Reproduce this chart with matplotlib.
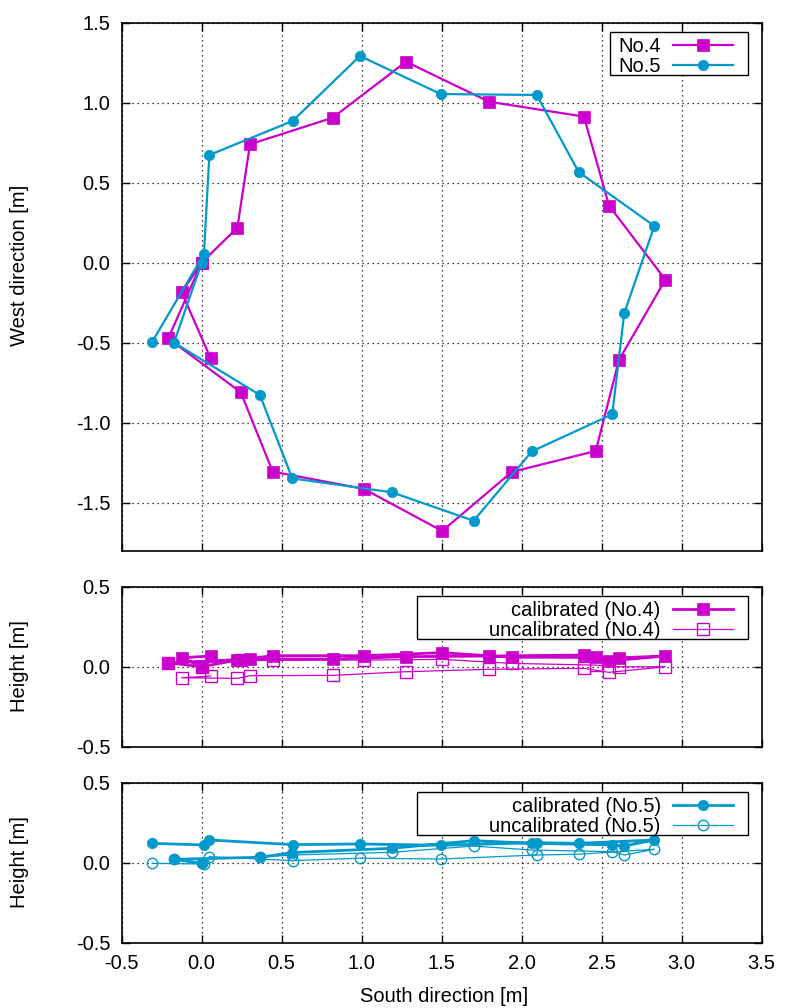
import numpy as np
import matplotlib
matplotlib.use('Agg')
import matplotlib.pyplot as plt
from matplotlib.patches import Rectangle

plt.rcParams['font.family'] = ['Liberation Sans', 'DejaVu Sans']
plt.rcParams['font.size'] = 14.5
plt.rcParams['axes.unicode_minus'] = False

MAG = '#cc00cc'
CYA = '#0099cc'
nan = np.nan

# No.4 : south / west position and height (calibrated, uncalibrated)
x_no4 = [0.056, -0.125, 0.0, 0.223, 0.302, 0.819, 1.277, 1.796, 2.389, 2.546,
         2.898, 2.608, 2.463, 1.938, 1.503, 1.014, 0.444, 0.244, -0.209, 0.0]
y_no4 = [-0.598, -0.185, 0.0, 0.219, 0.740, 0.906, 1.256, 1.006, 0.913, 0.356,
         -0.106, -0.608, -1.177, -1.308, -1.677, -1.414, -1.306, -0.810, -0.473, 0.0]
h_no4 = [0.067, 0.056, 0.0, 0.042, 0.048, 0.048, 0.063, 0.067, 0.073, 0.036,
         0.067, 0.056, 0.059, 0.059, 0.088, 0.069, 0.069, 0.045, 0.025, 0.0]
h_no4_raw = [-0.058, -0.069, nan, -0.073, -0.056, -0.054, -0.031, -0.016, -0.010, -0.035,
             0.0, 0.0, 0.010, 0.021, 0.046, 0.042, 0.040, 0.040, 0.025, 0.0]

# No.5
x_no5 = [-0.309, 0.014, 0.048, 0.569, 0.989, 1.494, 2.094, 2.356, 2.829,
         2.641, 2.566, 2.064, 1.700, 1.188, 0.566, 0.364, -0.173, 0.0]
y_no5 = [-0.494, 0.053, 0.673, 0.886, 1.292, 1.054, 1.048, 0.567, 0.229,
         -0.316, -0.948, -1.179, -1.613, -1.435, -1.348, -0.827, -0.500, 0.0]
h_no5 = [0.121, 0.111, 0.142, 0.113, 0.117, 0.109, 0.125, 0.121, 0.142,
         0.104, 0.111, 0.121, 0.138, 0.090, 0.063, 0.034, 0.021, -0.004]
h_no5_raw = [-0.004, -0.008, 0.038, 0.013, 0.028, 0.023, 0.048, 0.053, 0.084,
             0.048, 0.069, 0.079, 0.104, 0.065, 0.048, 0.034, 0.020, -0.004]

x_ticks = np.arange(-0.5, 3.51, 0.5)


def style(ax, yticks, labels=False):
    ax.set_xlim(-0.5, 3.5)
    ax.set_xticks(x_ticks)
    ax.set_yticks(yticks)
    ax.yaxis.set_major_formatter('{x:.1f}')
    ax.xaxis.set_major_formatter('{x:.1f}')
    ax.tick_params(direction='in', length=6, width=1, top=True, right=True, pad=8,
                   labelbottom=labels)
    ax.grid(True, color='black', linestyle=(0, (1, 3)), linewidth=0.9)
    for s in ax.spines.values():
        s.set_linewidth(1.2)


def legend(ax, handles, labels, box):
    # gnuplot style key: box drawn by hand, text right-aligned before the sample
    x0, y0, x1, y1 = box
    ax.add_patch(Rectangle((x0, y0), x1 - x0, y1 - y0, transform=ax.transAxes,
                           fill=True, facecolor='white', edgecolor='black',
                           linewidth=1.0, zorder=5))
    shift = 10 / 640
    leg = ax.legend(handles, labels, loc='upper right', bbox_to_anchor=(x1 - shift, y1),
                    frameon=False, markerfirst=False, borderaxespad=0, borderpad=0.25,
                    handlelength=3.0, handletextpad=0.6, labelspacing=0.05)
    leg.set_zorder(6)
    return leg


fig = plt.figure(figsize=(7.85, 10.08), dpi=100)
ax1 = fig.add_axes([0.155, 0.4537, 0.8153, 0.5238])
ax2 = fig.add_axes([0.155, 0.2592, 0.8153, 0.1587])
ax3 = fig.add_axes([0.155, 0.0648, 0.8153, 0.1587])

# top: horizontal trajectory
l4, = ax1.plot(x_no4, y_no4, color=MAG, lw=1.6, marker='s', ms=8, mew=0.5)
l5, = ax1.plot(x_no5, y_no5, color=CYA, lw=1.6, marker='o', ms=7.5, mew=0.5)
ax1.set_ylim(-1.8, 1.5)
style(ax1, np.arange(-1.5, 1.51, 0.5))
legend(ax1, [l4, l5], ['No.4', 'No.5'], (0.763, 0.901, 0.979, 0.982))

# middle: height No.4
h4 = np.array(h_no4_raw)
m4 = ~np.isnan(h4)
c4, = ax2.plot(x_no4, h_no4, color=MAG, lw=2, marker='s', ms=8, mew=0.5)
u4, = ax2.plot(np.array(x_no4)[m4], h4[m4], color=MAG, lw=0.9, marker='s', ms=8,
               mfc='none', mew=1.0)
ax2.set_ylim(-0.5, 0.5)
style(ax2, [-0.5, 0.0, 0.5])
legend(ax2, [c4, u4], ['calibrated (No.4)', 'uncalibrated (No.4)'],
       (0.461, 0.671, 0.979, 0.942))

# bottom: height No.5
c5, = ax3.plot(x_no5, h_no5, color=CYA, lw=2, marker='o', ms=7.5, mew=0.5)
u5, = ax3.plot(x_no5, h_no5_raw, color=CYA, lw=0.9, marker='o', ms=7.5,
               mfc='none', mew=1.0)
ax3.set_ylim(-0.5, 0.5)
style(ax3, [-0.5, 0.0, 0.5], labels=True)
legend(ax3, [c5, u5], ['calibrated (No.5)', 'uncalibrated (No.5)'],
       (0.461, 0.673, 0.979, 0.942))

fig.text(20 / 785, 1 - 265 / 1008, 'West direction [m]', rotation=90, ha='center', va='center')
fig.text(20 / 785, 1 - 666 / 1008, 'Height [m]', rotation=90, ha='center', va='center')
fig.text(20 / 785, 1 - 862 / 1008, 'Height [m]', rotation=90, ha='center', va='center')
fig.text(444 / 785, 1 - 997 / 1008, 'South direction [m]', ha='center', va='center')

fig.savefig('out.png', dpi=100)
